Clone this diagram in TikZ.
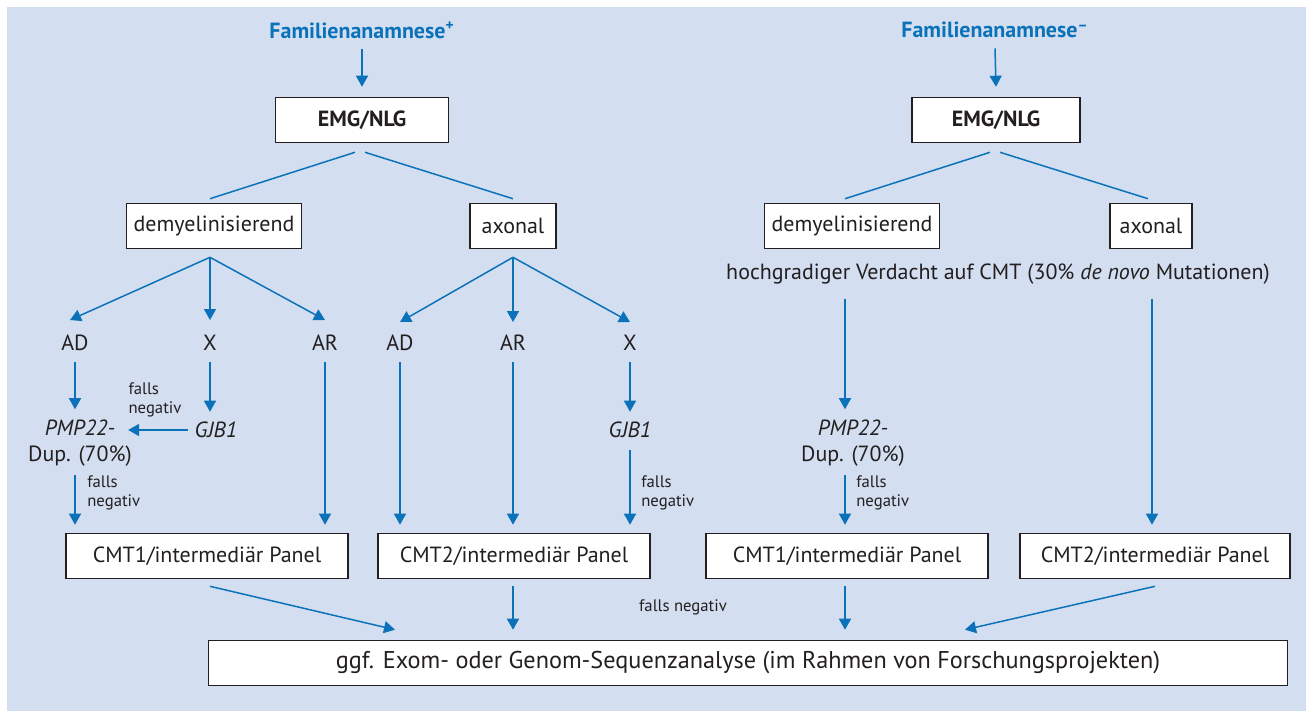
\documentclass[tikz,border=0pt]{standalone}
\usepackage{fontspec}
\setmainfont{PT Sans}
\usepackage{tikz}
\usetikzlibrary{arrows.meta,positioning,calc}
\definecolor{paleblue}{HTML}{D3DFF0}
\definecolor{flowblue}{HTML}{0B72BA}
\definecolor{inkgray}{HTML}{231F20}

\begin{document}
\begin{tikzpicture}[x=0.02cm, y=0.02cm,
  font=\fontsize{12.5}{15}\selectfont, text=inkgray,
  stage/.style={draw=inkgray, line width=0.9pt, fill=white, minimum height=0.9cm, inner sep=0pt},
  label/.style={inner sep=0pt},
  small/.style={inner sep=0pt, font=\fontsize{9.5}{11}\selectfont, align=left},
  title/.style={inner sep=0pt, text=flowblue, font=\fontsize{12.5}{15}\selectfont\bfseries},
  link/.style={draw=flowblue, line width=0.85pt},
  arr/.style={link, -{Triangle[length=0.22cm, width=0.24cm]}}]
\useasboundingbox (0,0) rectangle (1306,-711);
\fill[paleblue] (7,-7) rectangle (1306,-711);

% familienanamnese positiv
\node[title] (fampos) at (362,-30) {Familienanamnese\textsuperscript{+}};
\node[stage, minimum width=3.46cm, font=\fontsize{12.5}{15}\selectfont\bfseries] (emgA) at (362,-120) {EMG/NLG};
\node[stage, minimum width=3.5cm] (demA) at (214,-226) {demyelinisierend};
\node[stage, minimum width=1.72cm] (axA) at (513,-226) {axonal};
\node[label] (adA) at (75,-343) {AD};
\node[label] (xA) at (210,-343) {X};
\node[label] (arA) at (325,-343) {AR};
\node[label] (adB) at (400,-343) {AD};
\node[label] (arB) at (513,-343) {AR};
\node[label] (xB) at (630,-343) {X};
\node[label, align=center] (pmpA) at (80,-443) {\itshape PMP22-\\Dup. (70\%)};
\node[label] (gjbA) at (216,-430) {\itshape GJB1};
\node[label] (gjbB) at (630,-430) {\itshape GJB1};
\node[stage, minimum width=5.64cm] (cmtoneA) at (207,-556) {CMT1/intermediär Panel};
\node[stage, minimum width=5.44cm] (cmttwoA) at (514,-556) {CMT2/intermediär Panel};

% familienanamnese negativ
\node[title] (famneg) at (995,-30) {Familienanamnese\textsuperscript{\textendash}};
\node[stage, minimum width=3.36cm, font=\fontsize{12.5}{15}\selectfont\bfseries] (emgB) at (996,-120) {EMG/NLG};
\node[stage, minimum width=3.5cm] (demB) at (852,-226) {demyelinisierend};
\node[stage, minimum width=1.64cm] (axB) at (1151,-226) {axonal};
\node[label] (verd) at (998,-274) {hochgradiger Verdacht auf CMT (30\% \textit{de novo} Mutationen)};
\node[label, align=center] (pmpB) at (853,-443) {\itshape PMP22-\\Dup. (70\%)};
\node[stage, minimum width=5.64cm] (cmtoneB) at (847,-556) {CMT1/intermediär Panel};
\node[stage, minimum width=5.4cm] (cmttwoB) at (1155,-556) {CMT2/intermediär Panel};

\node[stage, minimum width=21.58cm, font=\fontsize{13.8}{16}\selectfont] (exom) at (748,-663) {ggf. Exom- oder Genom-Sequenzanalyse (im Rahmen von Forschungsprojekten)};

% linke seite
\draw[arr] ($(fampos.south)+(0,-10)$) -- ($(emgA.north)+(0,10)$);
\draw[link] ($(emgA.south)+(-7,-9)$) -- ($(demA.north)+(-4,4)$);
\draw[link] ($(emgA.south)+(3,-9)$) -- ($(axA.north)+(0,4)$);
\draw[arr] ($(demA.south)+(-4,-8)$) -- ($(adA)+(-5,23)$);
\draw[arr] ($(demA.south)+(-4,-8)$) -- ($(xA)+(0,23)$);
\draw[arr] ($(demA.south)+(-4,-8)$) -- ($(arA)+(0,23)$);
\draw[arr] ($(axA.south)+(0,-8)$) -- ($(adB)+(0,21)$);
\draw[arr] ($(axA.south)+(0,-8)$) -- ($(arB)+(0,21)$);
\draw[arr] ($(axA.south)+(0,-8)$) -- ($(xB)+(0,21)$);
\draw[arr] ($(adA)+(0,-19)$) -- ($(pmpA.north)+(-5,10)$);
\draw[arr] ($(xA)+(0,-19)$) -- ($(gjbA.north)+(-6,10)$);
\draw[arr] ($(gjbA.west)+(-6,0)$) -- ($(gjbA.west -| pmpA.east)+(-4,0)$);
\node[small] (negA) at (155,-400) {falls\\negativ};
\draw[arr] ($(pmpA.south)+(-5,-8)$) -- ($(cmtoneA.north)+(-132,8)$);
\node[small, anchor=west] (negB) at (87,-493) {falls\\negativ};
\draw[arr] ($(arA)+(0,-19)$) -- ($(cmtoneA.north)+(118,8)$);
\draw[arr] ($(adB)+(0,-19)$) -- ($(cmttwoA.north)+(-114,8)$);
\draw[arr] ($(arB)+(0,-19)$) -- ($(cmttwoA.north)+(-1,8)$);
\draw[arr] ($(xB)+(0,-19)$) -- ($(gjbB.north)+(0,10)$);
\draw[arr] ($(gjbB.south)+(0,-12)$) -- ($(cmttwoA.north)+(116,8)$);
\node[small, anchor=west] (negC) at (641,-493) {falls\\negativ};

% rechte seite
\draw[arr] ($(famneg.south)+(0,-10)$) -- ($(emgB.north)+(0,10)$);
\draw[link] ($(emgB.south)+(-6,-9)$) -- ($(demB.north)+(-7,4)$);
\draw[link] ($(emgB.south)+(4,-9)$) -- ($(axB.north)+(-3,4)$);
\draw[arr] ($(verd.south)+(-153,-14)$) -- ($(pmpB.north)+(-8,10)$);
\draw[arr] ($(verd.south)+(154,-14)$) -- ($(cmttwoB.north)+(-3,8)$);
\draw[arr] ($(pmpB.south)+(-8,-8)$) -- ($(cmtoneB.north)+(-2,8)$);
\node[small, anchor=west] (negD) at (856,-493) {falls\\negativ};

% zur sequenzanalyse
\draw[arr] ($(cmtoneA.south)+(3,-7)$) -- ($(exom.north)+(-353,10)$);
\draw[arr] ($(cmttwoA.south)+(-1,-7)$) -- ($(exom.north)+(-235,10)$);
\draw[arr] ($(cmtoneB.south)+(-2,-7)$) -- ($(exom.north)+(97,10)$);
\draw[arr] ($(cmttwoB.south)+(0,-7)$) -- ($(exom.north)+(217,10)$);
\node[small] (negE) at (683,-607) {falls negativ};
\end{tikzpicture}
\end{document}
